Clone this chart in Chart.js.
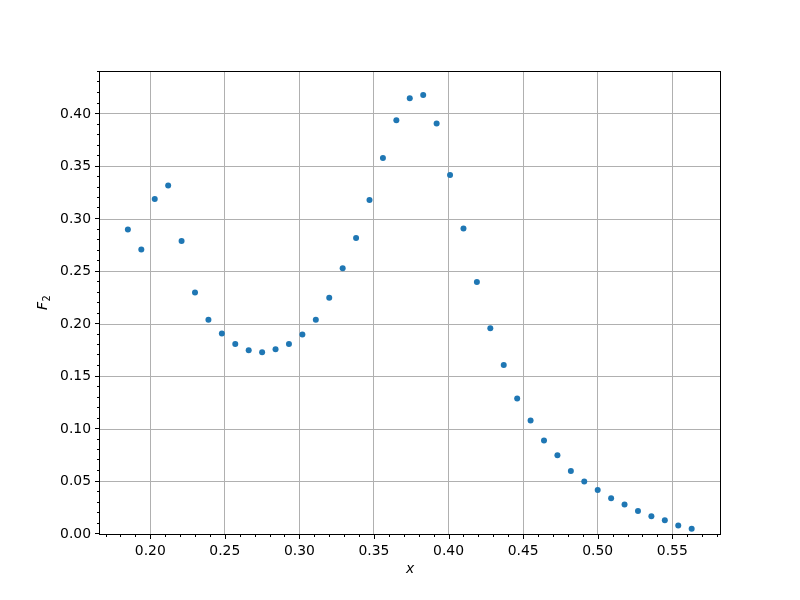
<!DOCTYPE html>
<html>
<head>
<meta charset="utf-8">
<script src="https://cdn.jsdelivr.net/npm/chart.js@4/dist/chart.umd.min.js"></script>
<style>
  html, body { margin: 0; padding: 0; background: #fff; }
  #wrap { width: 800px; height: 600px; }
</style>
</head>
<body>
<div id="wrap"><canvas id="chart" width="800" height="600"></canvas></div>
<script>
// values
var xValues = [0.185, 0.194, 0.203, 0.212, 0.221, 0.230, 0.239, 0.248, 0.257, 0.266,
	0.275, 0.284, 0.293, 0.302, 0.311, 0.320, 0.329, 0.338, 0.347, 0.356,
	0.365, 0.374, 0.383, 0.392, 0.401, 0.410, 0.419, 0.428, 0.437, 0.446,
	0.455, 0.464, 0.473, 0.482, 0.491, 0.500, 0.509, 0.518, 0.527, 0.536,
	0.545, 0.554, 0.563]
var f2Values = [0.290, 0.271, 0.319, 0.332, 0.279, 0.230, 0.204, 0.191, 0.181, 0.175,
	0.173, 0.176, 0.181, 0.190, 0.204, 0.225, 0.253, 0.282, 0.318, 0.358,
	0.394, 0.415, 0.418, 0.391, 0.342, 0.291, 0.240, 0.196, 0.161, 0.129,
	0.108, 0.089, 0.075, 0.060, 0.050, 0.042, 0.034, 0.028, 0.022, 0.017,
	0.013, 0.008, 0.005]

var xRange = [0.1663, 0.5820]
var yRange = [0, 0.44]
var majorStep = 0.05
var minorStep = 0.01

var FONT = 'DejaVu Sans'

function isMajor(v) {
	var r = v / majorStep
	return Math.abs(r - Math.round(r)) < 1e-6
}

var points = xValues.map((x, i) => ({x: x, y: f2Values[i]}))

// spines + major/minor tick marks like matplotlib, plus the F_2 label
var framePlugin = {
	id: 'frame',
	afterDraw(chart) {
		var ctx = chart.ctx
		var a = chart.chartArea
		ctx.save()
		ctx.strokeStyle = '#000'
		ctx.lineWidth = 1
		ctx.strokeRect(Math.round(a.left) - 0.5, Math.round(a.top) - 0.5,
			Math.round(a.right - a.left) + 1, Math.round(a.bottom - a.top) + 1)
		ctx.beginPath()
		chart.scales.x.ticks.forEach(t => {
			var px = Math.round(chart.scales.x.getPixelForValue(t.value)) + 0.5
			var len = isMajor(t.value) ? 5 : 3
			ctx.moveTo(px, a.bottom)
			ctx.lineTo(px, a.bottom + len)
		})
		chart.scales.y.ticks.forEach(t => {
			var py = Math.round(chart.scales.y.getPixelForValue(t.value)) - 0.5
			var len = isMajor(t.value) ? 5 : 3
			ctx.moveTo(a.left, py)
			ctx.lineTo(a.left - len, py)
		})
		ctx.stroke()

		// y label: italic F with a subscript 2
		ctx.translate(44, (a.top + a.bottom) / 2)
		ctx.rotate(-Math.PI / 2)
		ctx.fillStyle = '#000'
		ctx.textBaseline = 'middle'
		ctx.font = 'italic 13.9px "' + FONT + '"'
		var wF = ctx.measureText('F').width
		ctx.font = '9.7px "' + FONT + '"'
		var w2 = ctx.measureText('2').width
		var x0 = -(wF + w2) / 2
		ctx.font = 'italic 13.9px "' + FONT + '"'
		ctx.fillText('F', x0, -1)
		ctx.font = '9.7px "' + FONT + '"'
		ctx.fillText('2', x0 + wF + 0.5, 3)
		ctx.restore()
	}
}

new Chart(document.getElementById('chart').getContext('2d'), {
	type: 'scatter',
	data: {
		datasets: [{
			data: points,
			backgroundColor: '#1f77b4',
			borderColor: '#1f77b4',
			borderWidth: 0,
			pointRadius: 3,
			pointHoverRadius: 3
		}]
	},
	options: {
		responsive: false,
		animation: false,
		events: [],
		layout: {padding: {left: 0, right: 80, top: 72, bottom: 0}},
		plugins: {
			legend: {display: false},
			tooltip: {enabled: false}
		},
		scales: {
			x: {
				type: 'linear',
				min: xRange[0],
				max: xRange[1],
				afterFit(scale) { scale.height = 66 },
				border: {display: false},
				grid: {
					drawTicks: false,
					lineWidth: 1,
					color: ctx => ctx.tick && isMajor(ctx.tick.value) ? '#b0b0b0' : 'rgba(0,0,0,0)'
				},
				ticks: {
					stepSize: minorStep,
					includeBounds: false,
					autoSkip: false,
					maxRotation: 0,
					padding: 9,
					color: '#000',
					font: {family: FONT, size: 13.9},
					callback: v => isMajor(v) ? v.toFixed(2) : ''
				},
				title: {
					display: true,
					text: 'x',
					color: '#000',
					font: {family: FONT, size: 13.9, style: 'italic'},
					padding: {top: 0, bottom: 22}
				}
			},
			y: {
				type: 'linear',
				min: yRange[0],
				max: yRange[1],
				afterFit(scale) { scale.width = 100 },
				border: {display: false},
				grid: {
					drawTicks: false,
					lineWidth: 1,
					color: ctx => ctx.tick && isMajor(ctx.tick.value) ? '#b0b0b0' : 'rgba(0,0,0,0)'
				},
				ticks: {
					stepSize: minorStep,
					includeBounds: false,
					autoSkip: false,
					padding: 9,
					color: '#000',
					font: {family: FONT, size: 13.9},
					callback: v => isMajor(v) ? v.toFixed(2) : ''
				}
			}
		}
	},
	plugins: [framePlugin]
})
</script>
</body>
</html>
